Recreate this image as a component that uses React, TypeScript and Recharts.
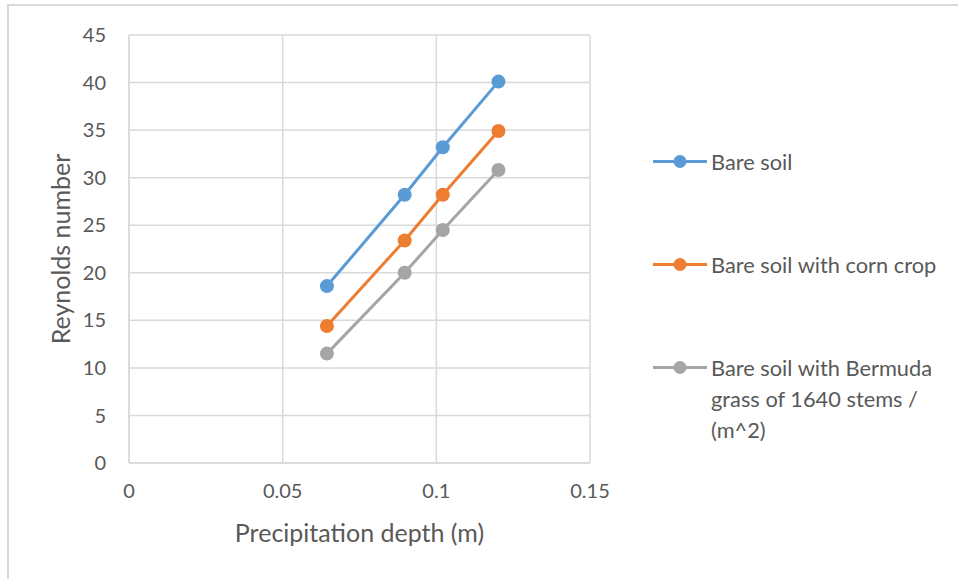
import { LineChart, Line, XAxis, YAxis, CartesianGrid, Legend } from "recharts";

// precipitation depth (m), shared by all three series
const depth = [0.0644, 0.0897, 0.1021, 0.1202];
const bareSoil = [18.6, 28.2, 33.2, 40.1];
const cornCrop = [14.4, 23.4, 28.2, 34.9];
const bermudaGrass = [11.5, 20.0, 24.5, 30.8];

const xTicks = [0, 0.05, 0.1, 0.15];
const yTicks = [0, 5, 10, 15, 20, 25, 30, 35, 40, 45];

const series = [
  { key: "bare", name: "Bare soil", color: "#5B9BD5" },
  { key: "corn", name: "Bare soil with corn crop", color: "#ED7D31" },
  { key: "bermuda", name: "Bare soil with Bermuda grass of 1640 stems / (m^2)", color: "#A5A5A5" },
];

const data = depth.map((x, i) => ({
  x,
  bare: bareSoil[i],
  corn: cornCrop[i],
  bermuda: bermudaGrass[i],
}));

const FONT = "Lato, 'Noto Sans', sans-serif";
const TEXT = "#595959";
const GRID = "#D9D9D9";

function LegendBox() {
  return (
    <div style={{ fontFamily: FONT, color: TEXT, fontSize: 21.8 }}>
      {series.map((s) => (
        <div key={s.key} style={{ display: "flex", alignItems: "flex-start", height: 103 }}>
          <svg width={54} height={31} style={{ flexShrink: 0 }}>
            <line x1={0} y1={15.5} x2={54} y2={15.5} stroke={s.color} strokeWidth={3} />
            <circle cx={27} cy={15.5} r={6.5} fill={s.color} />
          </svg>
          <div style={{ marginLeft: 4, lineHeight: "31px", width: 238, whiteSpace: "normal" }}>{s.name}</div>
        </div>
      ))}
    </div>
  );
}

export default function App() {
  return (
    <div style={{ position: "absolute", left: 0, top: 0, width: 958, height: 579, background: "#fff", overflow: "hidden" }}>
      <div
        style={{
          position: "absolute",
          left: 7,
          top: 4,
          width: 1000,
          height: 700,
          borderTop: `2px solid ${GRID}`,
          borderLeft: `2px solid ${GRID}`,
        }}
      />
      <div style={{ position: "absolute", left: 0, top: 0 }}>
        <LineChart width={958} height={579} data={data} margin={{ top: 35, right: 368, bottom: 0, left: 0 }}>
          <CartesianGrid stroke={GRID} strokeWidth={1.5} />
          <XAxis
            dataKey="x"
            type="number"
            domain={[0, 0.15]}
            ticks={xTicks}
            height={116}
            stroke={GRID}
            strokeWidth={1.5}
            tickLine={false}
            tickSize={0}
            tickMargin={21}
            tick={{ fill: TEXT, fontSize: 20, fontFamily: FONT }}
            label={{
              value: "Precipitation depth (m)",
              position: "insideBottom",
              offset: 37,
              fill: TEXT,
              fontSize: 25,
              fontFamily: FONT,
            }}
          />
          <YAxis
            type="number"
            domain={[0, 45]}
            ticks={yTicks}
            width={129}
            stroke={GRID}
            strokeWidth={1.5}
            tickLine={false}
            tickSize={0}
            tickMargin={23}
            tick={{ fill: TEXT, fontSize: 20, fontFamily: FONT }}
            label={{
              value: "Reynolds number",
              angle: -90,
              position: "center",
              dx: -3,
              fill: TEXT,
              fontSize: 25,
              fontFamily: FONT,
            }}
          />
          <Legend
            layout="vertical"
            verticalAlign="middle"
            align="center"
            content={() => <LegendBox />}
            wrapperStyle={{ left: 653, top: 146, width: 300 }}
          />
          {series.map((s) => (
            <Line
              key={s.key}
              dataKey={s.key}
              name={s.name}
              stroke={s.color}
              strokeWidth={3}
              dot={{ r: 7, fill: s.color, stroke: s.color, strokeWidth: 0 }}
              isAnimationActive={false}
            />
          ))}
        </LineChart>
      </div>
    </div>
  );
}
